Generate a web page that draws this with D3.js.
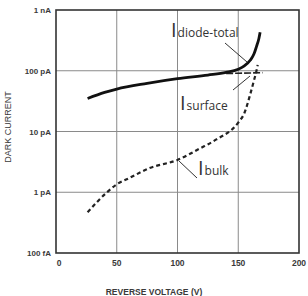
<!DOCTYPE html>
<html>
<head>
<meta charset="utf-8">
<script src="https://cdn.jsdelivr.net/npm/d3@7"></script>
<style>
  body { margin: 0; background: #fff; }
  svg { display: block; }
</style>
</head>
<body>
<div id="chart"></div>
<script>
// values (volts, amps)
var total_v = [26, 40, 50, 75, 100, 125, 140, 150, 155, 160, 163, 165, 167, 168];
var total_i = [35e-12, 44e-12, 50e-12, 62e-12, 74e-12, 85e-12, 94e-12, 106e-12, 120e-12, 150e-12, 190e-12, 250e-12, 340e-12, 430e-12];

var surface_v = [140, 150, 160, 170];
var surface_i = [90e-12, 91e-12, 92e-12, 93e-12];

var bulk_v = [26, 42, 50, 60, 77, 100, 118, 132, 150, 155, 160, 163, 165, 166];
var bulk_i = [0.47e-12, 1e-12, 1.35e-12, 1.7e-12, 2.5e-12, 3.4e-12, 5.2e-12, 7.4e-12, 14e-12, 20e-12, 42e-12, 70e-12, 100e-12, 125e-12];

var x_ticks = [0, 50, 100, 150, 200];
var y_ticks = [1e-13, 1e-12, 1e-11, 1e-10, 1e-9];
var y_tick_labels = ['100 fA', '1 pA', '10 pA', '100 pA', '1 nA'];

var width = 308, height = 296;
var svg = d3.select('#chart').append('svg').attr('width', width).attr('height', height);

var x = d3.scaleLinear().domain([0, 200]).range([56, 299]);
var y = d3.scaleLog().domain([1e-13, 1e-9]).range([253, 10]);

function pts(vs, is) { return vs.map(function(v, k){ return [v, is[k]]; }); }

// grid
svg.selectAll('.gx').data(x_ticks.slice(1, -1)).enter().append('line')
    .attr('x1', function(d){ return x(d); }).attr('x2', function(d){ return x(d); })
    .attr('y1', y(1e-9)).attr('y2', y(1e-13))
    .attr('stroke', '#8a8a8a').attr('stroke-width', 1);
svg.selectAll('.gy').data(y_ticks.slice(1, -1)).enter().append('line')
    .attr('y1', function(d){ return y(d); }).attr('y2', function(d){ return y(d); })
    .attr('x1', x(0)).attr('x2', x(200))
    .attr('stroke', '#8a8a8a').attr('stroke-width', 1);

// frame
svg.append('rect').attr('x', x(0)).attr('y', y(1e-9))
    .attr('width', x(200) - x(0)).attr('height', y(1e-13) - y(1e-9))
    .attr('fill', 'none').attr('stroke', '#333').attr('stroke-width', 1.6);

// tick labels
svg.selectAll('.yl').data(y_ticks).enter().append('text')
    .attr('x', 51).attr('y', function(d){ return y(d) + 3; })
    .attr('text-anchor', 'end')
    .attr('font-family', 'Liberation Sans, Arial, sans-serif')
    .attr('font-size', '8px').attr('font-weight', 'bold').attr('fill', '#3a3a3a')
    .text(function(d, k){ return y_tick_labels[k]; });

svg.selectAll('.xl').data(x_ticks).enter().append('text')
    .attr('x', function(d){ return x(d) + (d == 0 ? 3 : 0); }).attr('y', 266)
    .attr('text-anchor', 'middle')
    .attr('font-family', 'Liberation Sans, Arial, sans-serif')
    .attr('font-size', '8.5px').attr('font-weight', 'bold').attr('fill', '#3a3a3a')
    .text(function(d){ return d; });

svg.append('text').attr('x', 154).attr('y', 295).attr('text-anchor', 'middle')
    .attr('font-family', 'Liberation Sans, Arial, sans-serif')
    .attr('font-size', '8.5px').attr('font-weight', 'bold').attr('fill', '#3a3a3a')
    .text('REVERSE VOLTAGE (V)');

svg.append('text').attr('transform', 'translate(11,127) rotate(-90)')
    .attr('text-anchor', 'middle')
    .attr('font-family', 'Liberation Sans, Arial, sans-serif')
    .attr('font-size', '9px').attr('fill', '#3a3a3a')
    .text('DARK CURRENT');

// curves
var line = d3.line()
    .x(function(d){ return x(d[0]); })
    .y(function(d){ return y(d[1]); })
    .curve(d3.curveMonotoneX);

svg.append('path').attr('d', line(pts(surface_v, surface_i)))
    .attr('fill', 'none').attr('stroke', '#222').attr('stroke-width', 1.6)
    .attr('stroke-dasharray', '7,2');

svg.append('path').attr('d', line(pts(bulk_v, bulk_i)))
    .attr('fill', 'none').attr('stroke', '#222').attr('stroke-width', 2.2)
    .attr('stroke-dasharray', '4,3');

svg.append('path').attr('d', line(pts(total_v, total_i)))
    .attr('fill', 'none').attr('stroke', '#111').attr('stroke-width', 2.8);

// labels
function label(px, py, sub)
{
    var t = svg.append('text').attr('x', px).attr('y', py)
        .attr('font-family', 'Open Sans, DejaVu Sans, sans-serif').attr('fill', '#333');
    t.append('tspan').attr('font-size', '20px').text('I');
    t.append('tspan').attr('font-size', '12px').attr('dx', 1).text(sub);
}
label(171, 37, 'diode-total');
label(180, 110, 'surface');
label(198, 175, 'bulk');

// leader lines
var leaders = [[225, 43, 247, 62], [233, 90, 250, 76], [197, 178, 179, 161]];
svg.selectAll('.ld').data(leaders).enter().append('line')
    .attr('x1', function(d){ return d[0]; }).attr('y1', function(d){ return d[1]; })
    .attr('x2', function(d){ return d[2]; }).attr('y2', function(d){ return d[3]; })
    .attr('stroke', '#333').attr('stroke-width', 1);
</script>
</body>
</html>
